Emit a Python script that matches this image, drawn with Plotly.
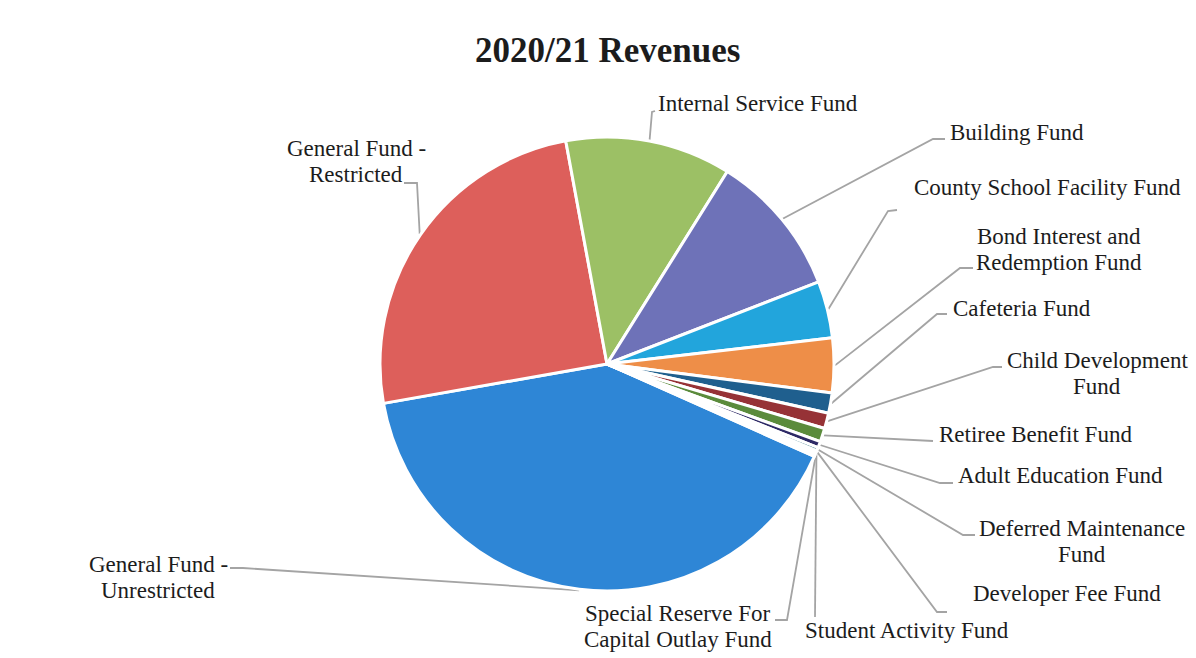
import math
import plotly.graph_objects as go

# Fund revenue shares (% of total), in drawing order (clockwise)
funds = [
    "General Fund - Unrestricted",
    "General Fund - Restricted",
    "Internal Service Fund",
    "Building Fund",
    "County School Facility Fund",
    "Bond Interest and Redemption Fund",
    "Cafeteria Fund",
    "Child Development Fund",
    "Retiree Benefit Fund",
    "Adult Education Fund",
    "Deferred Maintenance Fund",
    "Developer Fee Fund",
    "Student Activity Fund",
    "Special Reserve For Capital Outlay Fund",
]
shares = [40.55, 24.86, 11.8, 10.22, 4.04, 3.88, 1.44, 1.11, 0.97, 0.45, 0.25, 0.12, 0.18, 0.11]

# Label text, one entry per line
label_lines = [
    ["General Fund -", "Unrestricted"],
    ["General Fund -", "Restricted"],
    ["Internal Service Fund"],
    ["Building Fund"],
    ["County School Facility Fund"],
    ["Bond Interest and", "Redemption Fund"],
    ["Cafeteria Fund"],
    ["Child Development", "Fund"],
    ["Retiree Benefit Fund"],
    ["Adult Education Fund"],
    ["Deferred Maintenance", "Fund"],
    ["Developer Fee Fund"],
    ["Student Activity Fund"],
    ["Special Reserve For", "Capital Outlay Fund"],
]

colors = [
    "#2E86D6", "#DD5F5B", "#9CC065", "#6E72B8", "#22A5DC", "#EE8E48",
    "#1F5F8E", "#963236", "#5B8B3C", "#2E2A66", "#276A7C", "#B65708",
    "#7FB5E8", "#D98A88",
]

# Page geometry (pixels)
W, H = 1196, 658
CX, CY, R = 607, 364, 227
ROTATION = 114  # start of first slice, degrees clockwise from 12 o'clock

# Label placement: leader elbow, leader end, text anchor x, first-line y, anchor
label_pos = [
    dict(elbow=(243, 568), end=(230, 568), x=158, y=564, anchor="center"),
    dict(elbow=(417, 183), end=(404, 183), x=356, y=148, anchor="center"),
    dict(elbow=(652, 112), end=(655, 111), x=656, y=103, anchor="left"),
    dict(elbow=(933, 139), end=(945, 139), x=948, y=132, anchor="left"),
    dict(elbow=(888, 211), end=(897, 210), x=912, y=187, anchor="left"),
    dict(elbow=(960, 268), end=(973, 268), x=1059, y=236, anchor="center"),
    dict(elbow=(937, 314), end=(947, 314), x=951, y=308, anchor="left"),
    dict(elbow=(993, 367), end=(1002, 367), x=1097, y=360, anchor="center"),
    dict(elbow=(930, 441), end=(933, 441), x=937, y=434, anchor="left"),
    dict(elbow=(940, 483), end=(953, 483), x=956, y=475, anchor="left"),
    dict(elbow=(963, 535), end=(975, 535), x=1082, y=528, anchor="center"),
    dict(elbow=(937, 612), end=(947, 612), x=971, y=593, anchor="left"),
    dict(elbow=(815, 612), end=(815, 617), x=803, y=630, anchor="left"),
    dict(elbow=(787, 620), end=(775, 620), x=678, y=613, anchor="center"),
]
LINE_GAP = 26

FONT = "Liberation Serif, Times New Roman, serif"
TEXT_COLOR = "#1c1c1c"
LEADER_COLOR = "#A4A4A4"

fig = go.Figure()

fig.add_trace(go.Pie(
    labels=funds,
    values=shares,
    sort=False,
    direction="clockwise",
    rotation=ROTATION,
    marker=dict(colors=colors, line=dict(color="white", width=3)),
    textinfo="none",
    hoverinfo="label+percent",
    showlegend=False,
    domain=dict(
        x=[(CX - R) / W, (CX + R) / W],
        y=[1 - (CY + R) / H, 1 - (CY - R) / H],
    ),
))

# Leader lines from each slice's mid-angle on the rim to its label
total = sum(shares)
cum = 0.0
for v, pos in zip(shares, label_pos):
    theta = math.radians(ROTATION + 360.0 * (cum + v / 2.0) / total)
    cum += v
    sx = CX + (R + 1) * math.sin(theta)
    sy = CY - (R + 1) * math.cos(theta)
    xs = [sx, pos["elbow"][0], pos["end"][0]]
    ys = [sy, pos["elbow"][1], pos["end"][1]]
    fig.add_trace(go.Scatter(
        x=xs, y=ys, mode="lines",
        line=dict(color=LEADER_COLOR, width=1.8),
        hoverinfo="skip", showlegend=False,
    ))

annotations = []
for lines, pos in zip(label_lines, label_pos):
    for k, line in enumerate(lines):
        annotations.append(dict(
            x=pos["x"], y=pos["y"] + k * LINE_GAP,
            xref="x", yref="y",
            text=line, showarrow=False,
            xanchor=pos["anchor"], yanchor="middle",
            font=dict(family=FONT, size=23, color=TEXT_COLOR),
        ))

annotations.append(dict(
    x=607, y=50, xref="x", yref="y",
    text="<b>2020/21 Revenues</b>", showarrow=False,
    xanchor="center", yanchor="middle",
    font=dict(family=FONT, size=35, color=TEXT_COLOR),
))

fig.update_layout(
    width=W, height=H,
    margin=dict(l=0, r=0, t=0, b=0),
    paper_bgcolor="white",
    plot_bgcolor="rgba(0,0,0,0)",
    xaxis=dict(range=[0, W], visible=False, fixedrange=True, domain=[0, 1]),
    yaxis=dict(range=[H, 0], visible=False, fixedrange=True, domain=[0, 1]),
    annotations=annotations,
)

fig.write_html("out.html")
